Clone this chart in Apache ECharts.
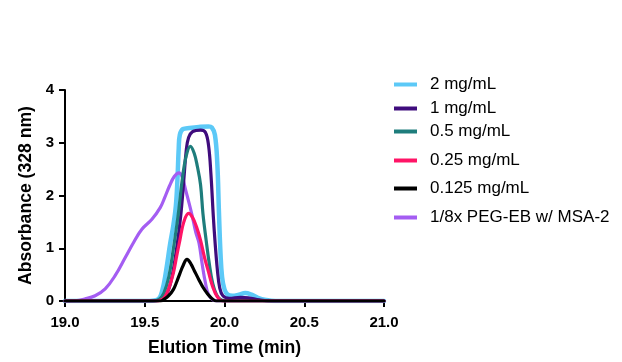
<!DOCTYPE html>
<html>
<head>
<meta charset="utf-8">
<script src="https://cdn.jsdelivr.net/npm/echarts@6/dist/echarts.min.js"></script>
<style>html,body{margin:0;padding:0;background:#fff;}#c{width:622px;height:362px;}</style>
</head>
<body>
<div id="c"></div>
<script>
// ---- data ----
const seriesNames = ['2 mg/mL', '1 mg/mL', '0.5 mg/mL', '0.25 mg/mL', '0.125 mg/mL', '1/8x PEG-EB w/ MSA-2'];
const xTicks = [19.0, 19.5, 20.0, 20.5, 21.0];
const yTicks = [0, 1, 2, 3, 4];

const t2 = [19.0, 19.5, 19.56, 19.59, 19.61, 19.63, 19.66, 19.68, 19.695, 19.705, 19.713, 19.72, 19.74, 19.78, 19.84, 19.9, 19.92, 19.94, 19.955, 19.965, 19.975, 19.985, 20.0, 20.02, 20.05, 20.09, 20.13, 20.17, 20.21, 20.26, 20.32, 21.0];
const v2 = [0, 0, 0.01, 0.05, 0.2, 0.5, 1.1, 1.45, 1.8, 2.3, 2.9, 3.15, 3.26, 3.28, 3.3, 3.31, 3.29, 3.15, 2.6, 1.7, 0.9, 0.45, 0.22, 0.12, 0.1, 0.12, 0.15, 0.12, 0.06, 0.02, 0, 0];

const t1 = [19.0, 19.55, 19.6, 19.64, 19.67, 19.7, 19.725, 19.745, 19.76, 19.775, 19.8, 19.85, 19.88, 19.9, 19.915, 19.93, 19.94, 19.955, 19.97, 19.99, 20.03, 20.1, 20.15, 20.22, 20.3, 21.0];
const v1 = [0, 0, 0.02, 0.15, 0.45, 1.0, 1.6, 2.3, 2.85, 3.1, 3.21, 3.24, 3.2, 2.95, 2.4, 1.6, 1.15, 0.6, 0.25, 0.1, 0.05, 0.07, 0.06, 0.02, 0, 0];

const t05 = [19.0, 19.55, 19.59, 19.62, 19.65, 19.68, 19.71, 19.735, 19.76, 19.786, 19.81, 19.83, 19.85, 19.865, 19.885, 19.905, 19.925, 19.95, 19.98, 20.02, 21.0];
const v05 = [0, 0, 0.03, 0.15, 0.45, 1.0, 1.64, 2.3, 2.75, 2.93, 2.8, 2.55, 2.2, 1.65, 1.15, 0.7, 0.35, 0.12, 0.02, 0, 0];

const t025 = [19.0, 19.58, 19.61, 19.63, 19.65, 19.68, 19.7, 19.72, 19.745, 19.775, 19.8, 19.825, 19.85, 19.875, 19.9, 19.925, 19.955, 19.99, 21.0];
const v025 = [0, 0, 0.03, 0.1, 0.23, 0.54, 0.85, 1.15, 1.5, 1.66, 1.58, 1.4, 1.15, 0.82, 0.55, 0.28, 0.08, 0, 0];

const t0125 = [19.0, 19.6, 19.62, 19.65, 19.68, 19.7, 19.72, 19.74, 19.765, 19.79, 19.81, 19.84, 19.865, 19.89, 19.92, 19.95, 21.0];
const v0125 = [0, 0, 0.03, 0.1, 0.22, 0.36, 0.52, 0.67, 0.79, 0.7, 0.58, 0.4, 0.26, 0.15, 0.05, 0, 0];

const tPeg = [19.0, 19.06, 19.126, 19.189, 19.252, 19.314, 19.377, 19.43, 19.482, 19.545, 19.597, 19.625, 19.655, 19.685, 19.715, 19.735, 19.755, 19.775, 19.797, 19.82, 19.84, 19.86, 19.88, 19.9, 19.93, 19.97, 21.0];
const vPeg = [0, 0.005, 0.04, 0.1, 0.23, 0.48, 0.82, 1.11, 1.36, 1.55, 1.77, 1.96, 2.18, 2.36, 2.43, 2.35, 2.12, 1.89, 1.62, 1.3, 1.1, 0.7, 0.35, 0.12, 0.02, 0, 0];

// ---- styling ----
const colors = ['#5CC9F7', '#3F0C7D', '#1E7D7C', '#FF1466', '#000000', '#A45DF2'];
const widths = [4.5, 3.2, 3.2, 3.2, 3.2, 3.2];
const times = [t2, t1, t05, t025, t0125, tPeg];
const vals = [v2, v1, v05, v025, v0125, vPeg];
const legendCenters = [84, 108, 131, 160, 188, 217];
const drawOrder = [0, 5, 1, 2, 3, 4];

const FONT = '"Liberation Sans", Arial, sans-serif';

const series = drawOrder.map(i => ({
  name: seriesNames[i],
  type: 'line',
  data: times[i].map((t, k) => [t, vals[i][k]]),
  smooth: 0.4,
  showSymbol: false,
  symbol: 'none',
  lineStyle: { color: colors[i], width: widths[i], cap: 'round', join: 'round' },
  itemStyle: { color: colors[i] },
  z: 2 + drawOrder.indexOf(i),
  animation: false
}));

const legends = seriesNames.map((n, i) => ({
  data: [n],
  left: 394,
  top: legendCenters[i] - 8,
  padding: 0,
  orient: 'vertical',
  icon: 'rect',
  itemWidth: 23,
  itemHeight: 4,
  itemGap: 0,
  selectedMode: false,
  textStyle: { fontFamily: FONT, fontSize: 17, color: '#000', padding: [0, 0, 0, 8] }
}));

const chart = echarts.init(document.getElementById('c'), null, { renderer: 'canvas' });
chart.setOption({
  animation: false,
  backgroundColor: '#fff',
  grid: { left: 65, top: 90, width: 319, height: 212, containLabel: false },
  legend: legends,
  xAxis: {
    type: 'value',
    min: xTicks[0],
    max: xTicks[xTicks.length - 1],
    interval: 0.5,
    name: 'Elution Time (min)',
    nameLocation: 'middle',
    nameGap: 38,
    nameTextStyle: { fontFamily: FONT, fontSize: 17.6, fontWeight: 'bold', color: '#000' },
    axisLine: { show: true, onZero: false, lineStyle: { color: '#000', width: 2 } },
    axisTick: { show: true, length: 6, inside: false, lineStyle: { color: '#000', width: 2 } },
    axisLabel: { margin: 14, fontFamily: FONT, fontSize: 15, fontWeight: 'bold', color: '#000',
      formatter: v => Number(v).toFixed(1) },
    splitLine: { show: false }
  },
  yAxis: {
    type: 'value',
    min: yTicks[0],
    max: yTicks[yTicks.length - 1],
    interval: 1,
    name: 'Absorbance (328 nm)',
    nameLocation: 'middle',
    nameGap: 25,
    nameTextStyle: { fontFamily: FONT, fontSize: 17.6, fontWeight: 'bold', color: '#000' },
    axisLine: { show: true, onZero: false, lineStyle: { color: '#000', width: 2 } },
    axisTick: { show: true, length: 6, inside: false, lineStyle: { color: '#000', width: 2 } },
    axisLabel: { margin: 11, fontFamily: FONT, fontSize: 15, fontWeight: 'bold', color: '#000' },
    splitLine: { show: false }
  },
  series: series
});
</script>
</body>
</html>
